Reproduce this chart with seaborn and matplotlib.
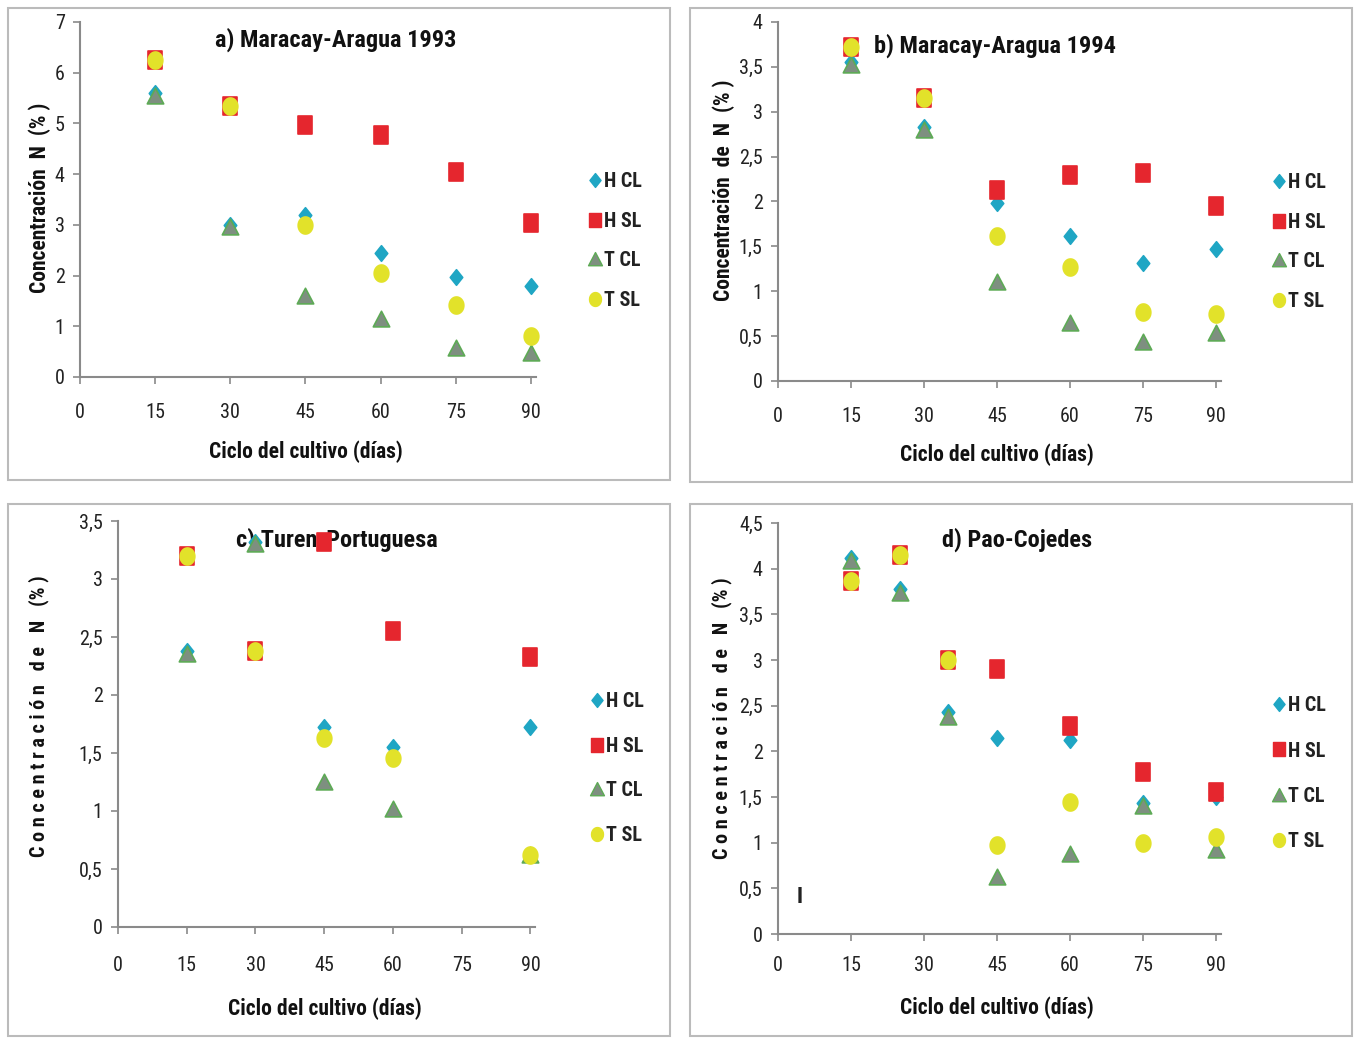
import numpy as np
import pandas as pd
import matplotlib
matplotlib.use("Agg")
import matplotlib.pyplot as plt
import seaborn as sns
from matplotlib.path import Path
from matplotlib.patches import Rectangle
from matplotlib.lines import Line2D

# ---------------- data ----------------
series_names = ["H CL", "H SL", "T CL", "T SL"]

# a) Maracay-Aragua 1993
days_a = [15, 30, 45, 60, 75, 90]
a_hcl = [5.60, 3.00, 3.20, 2.45, 1.97, 1.80]
a_hsl = [6.25, 5.35, 4.97, 4.77, 4.05, 3.03]
a_tcl = [5.55, 2.95, 1.60, 1.15, 0.58, 0.48]
a_tsl = [6.25, 5.35, 3.00, 2.05, 1.42, 0.80]

# b) Maracay-Aragua 1994
days_b = [15, 30, 45, 60, 75, 90]
b_hcl = [3.55, 2.83, 1.98, 1.62, 1.32, 1.47]
b_hsl = [3.72, 3.15, 2.13, 2.30, 2.32, 1.95]
b_tcl = [3.52, 2.80, 1.10, 0.65, 0.43, 0.53]
b_tsl = [3.72, 3.15, 1.62, 1.27, 0.77, 0.75]

# c) Turen-Portuguesa
days_c = [15, 30, 45, 60, 90]
c_hcl = [2.38, 3.32, 1.72, 1.55, 1.72]
c_hsl = [3.20, 2.38, 3.32, 2.55, 2.33]
c_tcl = [2.35, 3.30, 1.25, 1.02, 0.62]
c_tsl = [3.20, 2.38, 1.63, 1.46, 0.62]

# d) Pao-Cojedes
days_d = [15, 25, 35, 45, 60, 75, 90]
d_hcl = [4.12, 3.78, 2.43, 2.15, 2.12, 1.43, 1.50]
d_hsl = [3.87, 4.15, 3.00, 2.90, 2.28, 1.77, 1.55]
d_tcl = [4.08, 3.73, 2.38, 0.62, 0.88, 1.40, 0.92]
d_tsl = [3.87, 4.15, 3.00, 0.97, 1.45, 1.00, 1.06]

titles = ["a) Maracay-Aragua 1993", "b) Maracay-Aragua 1994",
          "c) Turen-Portuguesa", "d) Pao-Cojedes"]
ylabels = ["Concentración  N  (% )", "Concentración  de  N  (% )",
           "C o n c e n t r a c i ó n   d e   N   (% )",
           "C o n c e n t r a c i ó n   d e   N   (% )"]
xlabel = "Ciclo del cultivo (días)"
xticks = [0, 15, 30, 45, 60, 75, 90]
yticks_a = [0, 1, 2, 3, 4, 5, 6, 7]
ylabels_a = ["0", "1", "2", "3", "4", "5", "6", "7"]
yticks_b = [0, 0.5, 1, 1.5, 2, 2.5, 3, 3.5, 4]
ylabels_b = ["0", "0,5", "1", "1,5", "2", "2,5", "3", "3,5", "4"]
yticks_c = [0, 0.5, 1, 1.5, 2, 2.5, 3, 3.5]
ylabels_c = ["0", "0,5", "1", "1,5", "2", "2,5", "3", "3,5"]
yticks_d = [0, 0.5, 1, 1.5, 2, 2.5, 3, 3.5, 4, 4.5]
ylabels_d = ["0", "0,5", "1", "1,5", "2", "2,5", "3", "3,5", "4", "4,5"]

# ---------------- style ----------------
sns.set_theme(style="white")
FAM = ["Liberation Sans Narrow", "Roboto Condensed", "Liberation Sans", "DejaVu Sans"]
plt.rcParams["font.family"] = FAM

def ellipse(rx, ry, n=40):
    t = np.linspace(0, 2 * np.pi, n)
    return Path(np.column_stack([rx * np.cos(t), ry * np.sin(t)]), closed=True)

m_square = Path([(-0.44, -0.5), (0.44, -0.5), (0.44, 0.5), (-0.44, 0.5), (-0.44, -0.5)], closed=True)
m_diam = Path([(0, -0.5), (0.4, 0), (0, 0.5), (-0.4, 0), (0, -0.5)], closed=True)
m_tri = Path([(-0.5, -0.45), (0.5, -0.45), (0, 0.5), (-0.5, -0.45)], closed=True)
m_circ = ellipse(0.43, 0.5)

styles = {
    "H CL": dict(marker=m_diam, color="#1FA6C4", edgecolor="#1FA6C4", s=125),
    "H SL": dict(marker=m_square, color="#E5262E", edgecolor="#E5262E", s=150),
    "T CL": dict(marker=m_tri, color="#7E8F80", edgecolor="#5DAA55", s=140),
    "T SL": dict(marker=m_circ, color="#E2E22A", edgecolor="#E2E22A", s=150),
}

fig = plt.figure(figsize=(13.55, 10.39), dpi=100)

# panel frames
for (x0, y0, x1, y1) in [(8, 8, 670, 480), (690, 8, 1352, 482),
                         (8, 504, 670, 1036), (690, 504, 1352, 1036)]:
    fig.patches.append(Rectangle((x0 / 1355, 1 - y1 / 1039), (x1 - x0) / 1355, (y1 - y0) / 1039,
                                 transform=fig.transFigure, fill=False,
                                 edgecolor="#BBBBBB", linewidth=1.5, zorder=0))

panels = [
    dict(pos=[80 / 1355, 1 - 377 / 1039, 456 / 1355, 355 / 1039], days=days_a,
         vals=[a_hcl, a_hsl, a_tcl, a_tsl], ymax=7, yt=yticks_a, yl=ylabels_a,
         tpos=(0.56, 0.95), ylc=(-0.064, 0.505), xlc=(0.496, -0.178),
         leg=(1.095, 0.383), ls=1.02, xpad=14, ylfs=15.5),
    dict(pos=[778 / 1355, 1 - 381 / 1039, 443 / 1355, 359 / 1039], days=days_b,
         vals=[b_hcl, b_hsl, b_tcl, b_tsl], ymax=4, yt=yticks_b, yl=ylabels_b,
         tpos=(0.49, 0.935), ylc=(-0.097, 0.53), xlc=(0.494, -0.173),
         leg=(1.094, 0.387), ls=1.02, xpad=14, ylfs=15.5),
    dict(pos=[118 / 1355, 1 - 927 / 1039, 417 / 1355, 406 / 1039], days=days_c,
         vals=[c_hcl, c_hsl, c_tcl, c_tsl], ymax=3.5, yt=yticks_c, yl=ylabels_c,
         tpos=(0.525, 0.953), ylc=(-0.166, 0.52), xlc=(0.496, -0.173),
         leg=(1.11, 0.39), ls=1.27, xpad=16, ylfs=14.5),
    dict(pos=[778 / 1355, 1 - 934 / 1039, 443 / 1355, 411 / 1039], days=days_d,
         vals=[d_hcl, d_hsl, d_tcl, d_tsl], ymax=4.5, yt=yticks_d, yl=ylabels_d,
         tpos=(0.54, 0.958), ylc=(-0.103, 0.525), xlc=(0.494, -0.153),
         leg=(1.094, 0.39), ls=1.31, xpad=10.5, ylfs=14.5),
]

for i, p in enumerate(panels):
    ax = fig.add_axes(p["pos"])
    ax.text(p["tpos"][0], p["tpos"][1], titles[i], transform=ax.transAxes,
            ha="center", va="center", fontsize=17.5, fontweight="bold",
            color="#111111", zorder=1)
    for name, vals in zip(series_names, p["vals"]):
        df = pd.DataFrame({"dia": p["days"], "N": vals})
        st = styles[name]
        sns.scatterplot(data=df, x="dia", y="N", ax=ax, marker=st["marker"],
                        color=st["color"], edgecolor=st["edgecolor"], linewidth=1.2,
                        s=st["s"], zorder=3, legend=False, clip_on=False)
    ax.set_xlim(0, 91)
    ax.set_ylim(0, p["ymax"])
    ax.set_xticks(xticks)
    ax.set_xticklabels([str(t) for t in xticks])
    ax.set_yticks(p["yt"])
    ax.set_yticklabels(p["yl"])
    for s in ["top", "right"]:
        ax.spines[s].set_visible(False)
    for s in ["left", "bottom"]:
        ax.spines[s].set_color("#8A8A8A")
        ax.spines[s].set_linewidth(1.5)
    ax.tick_params(axis="x", length=5, width=1.2, color="#8A8A8A", pad=p["xpad"],
                   labelsize=14.5, labelcolor="#222222", direction="out", bottom=True)
    ax.tick_params(axis="y", length=5, width=1.2, color="#8A8A8A", pad=6,
                   labelsize=14.5, labelcolor="#222222", direction="out", left=True)
    ax.set_xlabel(xlabel, fontsize=15.5, fontweight="bold", color="#111111")
    ax.set_ylabel(ylabels[i], fontsize=p["ylfs"], fontweight="bold", color="#111111")
    ax.yaxis.set_label_coords(*p["ylc"])
    ax.xaxis.set_label_coords(*p["xlc"])
    ax.set_facecolor("none")
    handles = [Line2D([], [], linestyle="none", marker=styles[n]["marker"],
                      markerfacecolor=styles[n]["color"], markeredgecolor=styles[n]["edgecolor"],
                      markersize=10, label=n) for n in series_names]
    leg = ax.legend(handles=handles, loc="center left", bbox_to_anchor=p["leg"],
                    frameon=False, handletextpad=0.05, handlelength=0.8,
                    labelspacing=p["ls"], borderaxespad=0,
                    prop=dict(family=FAM, weight="bold", size=14.5))
    for t in leg.get_texts():
        t.set_color("#222222")
    if i == 3:
        ax.text(4.5, 0.4, "I", fontsize=16, fontweight="bold", color="#222222",
                ha="center", va="center")

fig.savefig("out.png", dpi=100, facecolor="white")
